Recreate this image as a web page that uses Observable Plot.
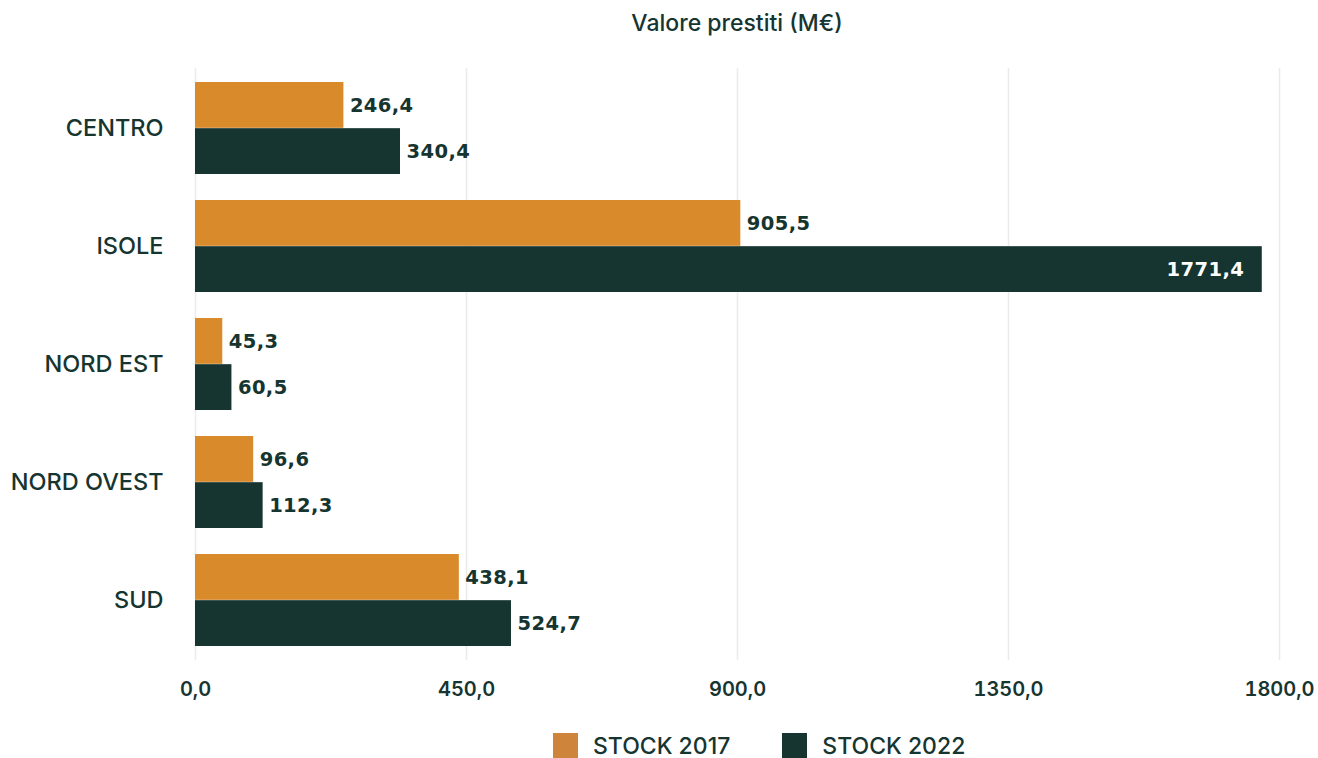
<!DOCTYPE html>
<html>
<head>
<meta charset="utf-8">
<script src="https://cdn.jsdelivr.net/npm/d3@7"></script>
<script src="https://cdn.jsdelivr.net/npm/@observablehq/plot@0.6"></script>
<style>
  html, body { margin: 0; padding: 0; background: #ffffff; }
  body { width: 1318px; height: 758px; overflow: hidden; font-family: Inter, "Noto Sans", sans-serif; color: #163530; }
  #title { height: 45px; margin-left: 195px; width: 1084px; display: flex; align-items: center; justify-content: center; font-size: 23px; font-weight: 500; }
  #chart svg { display: block; }
  #chart svg [aria-label^="y-axis"] text { font-size: 23.5px; font-weight: 500; }
  #chart svg [aria-label^="x-axis"] text { font-size: 20px; font-weight: 600; }
  #chart svg g[aria-label="text"] text { letter-spacing: 0.4px; }
  #legend { height: 48px; display: flex; align-items: flex-start; padding-top: 23px; box-sizing: border-box; padding-left: 553px; font-size: 23px; font-weight: 500; }
  .item { display: flex; align-items: center; margin-right: 52px; height: 25px; }
  .sw { width: 25px; height: 25px; margin-right: 15px; }
</style>
</head>
<body>
<div id="title">Valore prestiti (M€)</div>
<div id="chart"></div>
<div id="legend"></div>
<script>
const regions = ["CENTRO", "ISOLE", "NORD EST", "NORD OVEST", "SUD"];
const stock2017 = [246.4, 905.5, 45.3, 96.6, 438.1];
const stock2022 = [340.4, 1771.4, 60.5, 112.3, 524.7];
const seriesNames = ["STOCK 2017", "STOCK 2022"];
const xTicks = [0, 450, 900, 1350, 1800];

const colorOrange = "#D98A2B";
const colorGreen = "#163530";
const legendColors = ["#CE843A", "#163530"];

const fmt = v => d3.format(".1f")(v).replace(".", ",");

const rows2017 = regions.map((r, i) => ({region: r, value: stock2017[i]}));
const rows2022 = regions.map((r, i) => ({region: r, value: stock2022[i]}));

const width = 1318, height = 665;
const marginTop = 23, marginBottom = 50, marginLeft = 195, marginRight = 39;
const pi = 0.22, po = 0.11;
const H = height - marginTop - marginBottom;
const step = H / (regions.length - pi + 2 * po);
const bw = step * (1 - pi);
const half = bw / 2;

const maxV = 1800;
const inside = d => d.value > 0.9 * maxV;
const labelFont = "'DejaVu Sans', sans-serif";
const labelSize = 19.5;

const plot = Plot.plot({
  width, height, marginTop, marginBottom, marginLeft, marginRight,
  style: {fontFamily: "Inter, 'Noto Sans', sans-serif", color: "#163530", background: "#ffffff"},
  x: {domain: [0, 1800], ticks: xTicks, tickFormat: fmt, tickSize: 0, tickPadding: 21, label: null},
  y: {domain: regions, paddingInner: pi, paddingOuter: po, tickSize: 0, tickPadding: 32, label: null},
  marks: [
    Plot.ruleX(xTicks, {stroke: "#ebebeb", strokeWidth: 1.5}),
    Plot.barX(rows2017, {y: "region", x: "value", fill: colorOrange, insetBottom: half}),
    Plot.barX(rows2022, {y: "region", x: "value", fill: colorGreen, insetTop: half}),
    Plot.text(rows2017, {y: "region", x: "value", text: d => fmt(d.value), dy: -half / 2, dx: 6, textAnchor: "start",
      fill: "#163530", fontSize: labelSize, fontWeight: "bold", fontFamily: labelFont}),
    Plot.text(rows2022.filter(d => !inside(d)), {y: "region", x: "value", text: d => fmt(d.value), dy: half / 2, dx: 6, textAnchor: "start",
      fill: "#163530", fontSize: labelSize, fontWeight: "bold", fontFamily: labelFont}),
    Plot.text(rows2022.filter(d => inside(d)), {y: "region", x: "value", text: d => fmt(d.value), dy: half / 2, dx: -18, textAnchor: "end",
      fill: "#ffffff", fontSize: labelSize, fontWeight: "bold", fontFamily: labelFont})
  ]
});
document.getElementById("chart").appendChild(plot);

const legend = document.getElementById("legend");
seriesNames.forEach((name, i) => {
  const item = document.createElement("div");
  item.className = "item";
  const sw = document.createElement("div");
  sw.className = "sw";
  sw.style.background = legendColors[i];
  const lab = document.createElement("span");
  lab.textContent = name;
  item.appendChild(sw);
  item.appendChild(lab);
  legend.appendChild(item);
});
</script>
</body>
</html>
